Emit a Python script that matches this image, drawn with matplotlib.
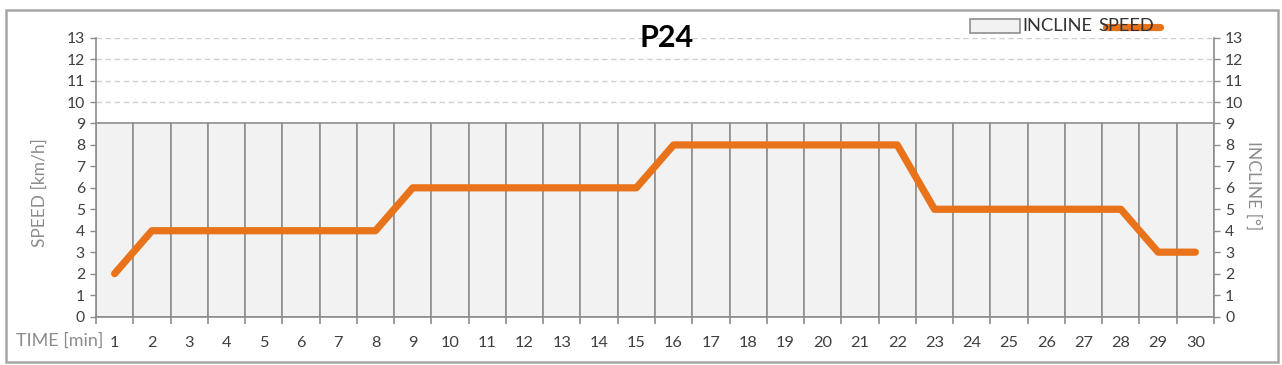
import matplotlib
matplotlib.use("Agg")
import matplotlib.pyplot as plt
from matplotlib.patches import Rectangle
from matplotlib.lines import Line2D

# Data
minutes = list(range(1, 31))
incline = [9] * 30
speed = [2, 4, 4, 4, 4, 4, 4, 4, 6, 6, 6, 6, 6, 6, 6,
         8, 8, 8, 8, 8, 8, 8, 5, 5, 5, 5, 5, 5, 3, 3]
y_ticks = list(range(0, 14))
title = "P24"

plt.rcParams['font.family'] = ['Lato', 'DejaVu Sans']

W, H = 1282, 365
fig = plt.figure(figsize=(W / 100, H / 100), dpi=100)
fig.patch.set_facecolor('white')

def fx(px):
    return px / W

def fy(py):
    return 1 - py / H

# outer border
fig.add_artist(Rectangle((fx(6), fy(362)), fx(1278) - fx(6), fy(10) - fy(362),
                         transform=fig.transFigure, fill=False,
                         edgecolor='#a6a6a6', linewidth=1.8))

left, right, top, bottom = 96, 1214, 37.7, 316.5
ax = fig.add_axes([fx(left), fy(bottom), fx(right) - fx(left), fy(top) - fy(bottom)])
ax.set_facecolor('none')

ax.set_xlim(0.5, 30.5)
ax.set_ylim(0, 13)

# dashed grid
ax.set_yticks(y_ticks)
ax.yaxis.grid(True, color='#d0d0d0', linestyle=(0, (4, 2.5)), linewidth=1.0)
ax.set_axisbelow(True)

ax.bar(minutes, incline, width=1.0, color='#f2f2f2', edgecolor='#8f8f8f',
       linewidth=1.2, zorder=2)
ax.plot(minutes, speed, color='#e8731a', linewidth=5.2, solid_capstyle='round',
        solid_joinstyle='round', zorder=3)

# spines
ax.spines['top'].set_visible(False)
for s in ['left', 'right', 'bottom']:
    ax.spines[s].set_color('#8c8c8c')
    ax.spines[s].set_linewidth(1.2)

# x ticks
ax.set_xticks(minutes)
ax.set_xticklabels([str(m) for m in minutes])
ax.set_xticks([m + 0.5 for m in [0] + minutes], minor=True)
ax.tick_params(axis='x', which='major', length=0, pad=14, labelsize=11.8,
               labelcolor='#404040')
ax.tick_params(axis='x', which='minor', length=5, width=1.2, color='#8c8c8c',
               direction='out')

# y ticks
ax.tick_params(axis='y', which='major', left=True, right=True, labelleft=True,
               labelright=True, length=4, width=1.0, color='#8c8c8c',
               direction='out', labelsize=11.3, labelcolor='#404040', pad=4)

fig.text(fx(40), fy(193), 'SPEED [km/h]', rotation=90, color='#8c8c8c', fontsize=12.5,
         ha='center', va='center')
fig.text(fx(1253), fy(186), 'INCLINE [°]', rotation=270, color='#8c8c8c', fontsize=12.5,
         ha='center', va='center')
fig.text(fx(103), fy(341), 'TIME [min]', color='#8c8c8c', fontsize=13,
         ha='right', va='center')

fig.text(fx(667), fy(38), title, fontsize=22, fontweight='bold', color='black',
         ha='center', va='center')

# legend
fig.add_artist(Rectangle((fx(970), fy(33)), fx(1020) - fx(970), fy(19) - fy(33),
                         transform=fig.transFigure, facecolor='#f2f2f2',
                         edgecolor='#8f8f8f', linewidth=1.2))
fig.text(fx(1022), fy(26), 'INCLINE', fontsize=13.2, color='#333333',
         ha='left', va='center')
fig.text(fx(1098), fy(26), 'SPEED', fontsize=13.2, color='#333333',
         ha='left', va='center')
fig.add_artist(Line2D([fx(1106), fx(1160)], [fy(27), fy(27)], transform=fig.transFigure,
                      color='#e8731a', linewidth=5.2, solid_capstyle='round'))

fig.savefig('out.png', dpi=100, facecolor='white')
